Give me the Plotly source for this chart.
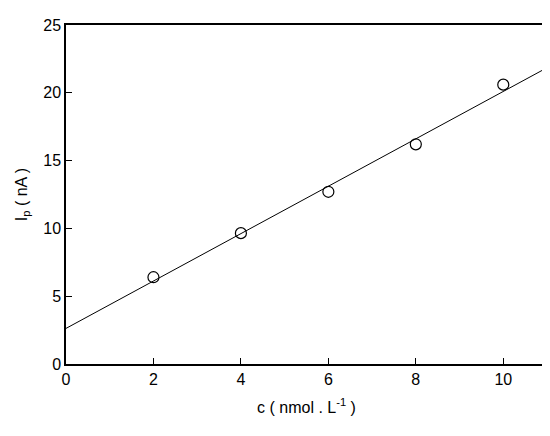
import numpy as np
import plotly.graph_objects as go

conc = [2, 4, 6, 8, 10]
current = [6.4, 9.65, 12.7, 16.2, 20.6]

# linear fit through the points
slope, intercept = np.polyfit(conc, current, 1)
fit_x = [0, 11]
fit_y = [intercept + slope * x for x in fit_x]

fig = go.Figure()
fig.add_trace(go.Scatter(x=fit_x, y=fit_y, mode="lines",
                         line=dict(color="black", width=1), showlegend=False))
fig.add_trace(go.Scatter(x=conc, y=current, mode="markers",
                         marker=dict(symbol="circle-open", size=11, color="black",
                                     line=dict(width=1.2)), showlegend=False))

axis = dict(showgrid=False, zeroline=False, showline=True, mirror=True,
            linecolor="black", linewidth=1.5, ticks="inside", ticklen=6,
            tickcolor="black", tickfont=dict(size=16, color="black"))
fig.update_xaxes(range=[0, 11], dtick=2, **axis,
                 title=dict(text="c ( nmol . L<sup>-1</sup> )", font=dict(size=16, color="black")))
fig.update_yaxes(range=[0, 25], dtick=5, **axis,
                 title=dict(text="I<sub>p</sub> ( nA )", font=dict(size=16, color="black"), standoff=12))
fig.update_layout(width=550, height=436, plot_bgcolor="white", paper_bgcolor="white",
                  font=dict(family="Liberation Sans, Arial"),
                  margin=dict(l=58, r=9, t=12, b=80))
fig.write_html("out.html")
